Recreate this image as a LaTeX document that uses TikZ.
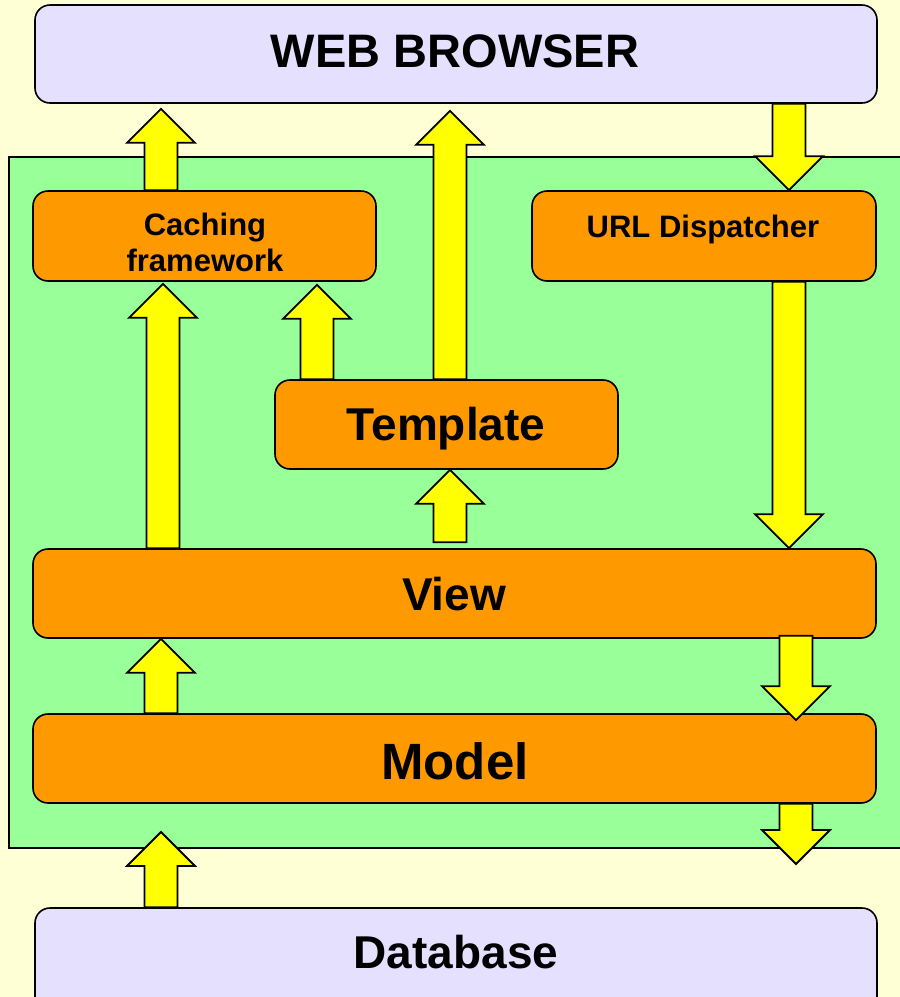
\documentclass[tikz,border=0pt]{standalone}
\usepackage{fontspec}
\setmainfont{Liberation Sans}
\usetikzlibrary{calc}
\definecolor{bgyellow}{RGB}{255,255,213}
\definecolor{lavender}{RGB}{230,224,255}
\definecolor{boxorange}{RGB}{255,153,0}
\definecolor{panelgreen}{RGB}{153,255,153}
\definecolor{arrowyellow}{RGB}{255,255,0}
\newcommand\blkarr[2]{%
  \draw[blk] let \p1=#1, \p2=#2, \n1={2*(\y2>\y1)-1} in
    ({\x1-16.5pt},\y1) -- ({\x1-16.5pt},{\y2-\n1*34pt}) -- ({\x1-34pt},{\y2-\n1*34pt})
    -- (\x1,\y2) -- ({\x1+34pt},{\y2-\n1*34pt}) -- ({\x1+16.5pt},{\y2-\n1*34pt})
    -- ({\x1+16.5pt},\y1) -- cycle;}
\begin{document}
\begin{tikzpicture}[x=1pt,y=-1pt,
  box/.style={draw=black, line width=1.6pt, rounded corners=15pt, inner sep=0pt},
  lav/.style={box, fill=lavender},
  org/.style={box, fill=boxorange},
  blk/.style={draw=black, line width=1.8pt, fill=arrowyellow, line join=miter},
  big/.style={font=\bfseries\fontsize{47}{56}\selectfont, anchor=base},
  small/.style={font=\bfseries\fontsize{31}{36}\selectfont, anchor=base, align=center}]
\useasboundingbox (0,0) rectangle (900,997);
\clip (0,0) rectangle (900,997);
\fill[bgyellow] (0,0) rectangle (900,997);
% panel
\node[draw=black, line width=1.6pt, fill=panelgreen, minimum width=898pt, minimum height=691pt, inner sep=0pt] (panel) at (458,502.5) {};
% boxes
\node[lav, minimum width=842pt, minimum height=98pt] (browser) at (456,54) {};
\node[org, minimum width=343pt, minimum height=90pt] (cache) at (204.5,236) {};
\node[org, minimum width=344pt, minimum height=90pt] (url) at (704,236) {};
\node[org, minimum width=343pt, minimum height=89pt] (template) at (446.5,424.5) {};
\node[org, minimum width=843pt, minimum height=89pt] (view) at (454.5,593.5) {};
\node[org, minimum width=843pt, minimum height=89pt] (model) at (454.5,758.5) {};
\node[lav, minimum width=842pt, minimum height=110pt] (database) at (456,963) {};
% texts
\node[big] (tbrowser) at (455,67) {WEB BROWSER};
\node[small] (tcache) at (205,271) {Caching\\framework};
\node[small] (turl) at (703,237) {URL Dispatcher};
\node[big, font=\bfseries\fontsize{46}{56}\selectfont] (ttemplate) at (446,440) {Template};
\node[big, font=\bfseries\fontsize{46}{56}\selectfont] (tview) at (454,610) {View};
\node[big, font=\bfseries\fontsize{51}{60}\selectfont] (tmodel) at (455,779) {Model};
\node[big, font=\bfseries\fontsize{46}{56}\selectfont] (tdb) at (456,968) {Database};
% arrow columns
\coordinate (cA) at (161,0);
\coordinate (cB) at (163,0);
\coordinate (cC) at (317,0);
\coordinate (cD) at (450,0);
\coordinate (cE) at (789,0);
\coordinate (cF) at (796,0);
\coordinate (dbout) at (796,864);
\coordinate (dbin) at (161,832);
% arrows
\blkarr{(cA |- cache.north)}{([yshift=-5pt]cA |- browser.south)}
\blkarr{(cD |- template.north)}{([yshift=-7pt]cD |- browser.south)}
\blkarr{(cE |- browser.south)}{(cE |- url.north)}
\blkarr{(cE |- url.south)}{(cE |- view.north)}
\blkarr{(cB |- view.north)}{([yshift=-2pt]cB |- cache.south)}
\blkarr{(cC |- template.north)}{([yshift=-3pt]cC |- cache.south)}
\blkarr{([yshift=6pt]cD |- view.north)}{(cD |- template.south)}
\blkarr{(cA |- model.north)}{(cA |- view.south)}
\blkarr{([yshift=3pt]cF |- view.south)}{([yshift=-7pt]cF |- model.north)}
\blkarr{(cF |- model.south)}{(dbout)}
\blkarr{(cA |- database.north)}{(dbin)}
\end{tikzpicture}
\end{document}
